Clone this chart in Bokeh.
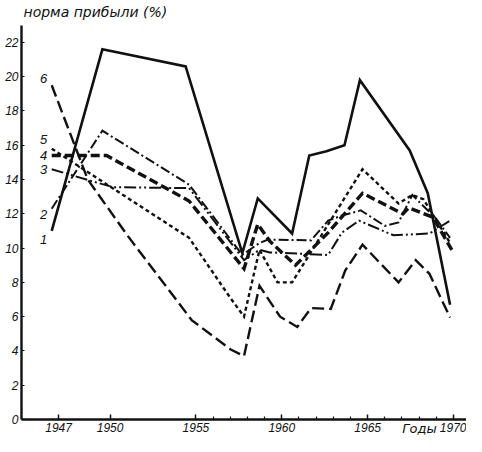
from bokeh.plotting import figure
from bokeh.models import FixedTicker, Range1d, ColumnDataSource, LinearAxis
from bokeh.embed import file_html
from bokeh.resources import INLINE
from bokeh.core.properties import value

# ---- data ----
years_1 = [1946.6, 1949.55, 1954.4, 1957.7, 1958.6, 1960.6, 1961.6, 1962.6, 1963.65, 1964.55, 1967.45, 1968.5, 1969.8]
rate_1 = [11.0, 21.6, 20.6, 9.7, 12.9, 10.85, 15.4, 15.65, 16.0, 19.8, 15.7, 13.2, 6.7]

years_2 = [1946.6, 1949.55, 1954.6, 1957.7, 1958.7, 1959.2, 1961.7, 1962.7, 1963.5, 1964.6, 1966.0, 1966.8, 1967.6, 1969.0, 1969.8]
rate_2 = [12.3, 16.85, 13.7, 9.6, 10.3, 10.5, 10.45, 11.6, 11.9, 12.2, 11.3, 11.5, 13.1, 11.7, 10.6]

years_3 = [1946.6, 1949.3, 1950.2, 1954.6, 1957.8, 1958.7, 1959.3, 1962.7, 1963.5, 1964.5, 1966.5, 1968.6, 1969.8]
rate_3 = [14.6, 13.8, 13.55, 13.5, 9.3, 9.9, 9.75, 9.6, 10.9, 11.6, 10.75, 10.85, 11.6]

years_4 = [1946.6, 1949.8, 1954.6, 1957.8, 1958.6, 1959.3, 1960.8, 1962.7, 1964.7, 1967.05, 1967.4, 1968.8, 1969.9]
rate_4 = [15.4, 15.4, 12.75, 8.8, 11.4, 10.4, 9.0, 10.9, 13.2, 12.0, 12.35, 11.8, 9.9]

years_5 = [1946.6, 1954.6, 1957.0, 1957.8, 1958.7, 1959.75, 1960.6, 1964.7, 1966.8, 1967.6, 1968.25, 1969.8]
rate_5 = [15.8, 10.6, 7.1, 6.0, 9.9, 8.0, 8.0, 14.6, 12.6, 13.1, 12.85, 10.3]

years_6 = [1946.6, 1948.7, 1951.0, 1954.75, 1957.0, 1957.8, 1958.7, 1959.9, 1960.9, 1961.7, 1962.85, 1963.7, 1964.7, 1966.8, 1967.8, 1968.6, 1969.8]
rate_6 = [19.5, 14.0, 10.75, 5.8, 4.1, 3.7, 7.8, 6.0, 5.4, 6.5, 6.45, 8.7, 10.2, 8.0, 9.3, 8.5, 5.95]

series_names = ["1", "2", "3", "4", "5", "6"]
x_major_ticks = [1947, 1950, 1955, 1960, 1965, 1970]
x_minor_ticks = [1956, 1957, 1958, 1959, 1961, 1962, 1963, 1964, 1966, 1967, 1968, 1969]
y_ticks = [0, 2, 4, 6, 8, 10, 12, 14, 16, 18, 20, 22]
y_title = "норма прибыли (%)"
x_title = "Годы"

# ---- layout / styles ----
FONT = "Liberation Sans"
TFONT = "DejaVu Sans"
INK = "#111111"
styles = [
    dict(line_width=2.6, line_dash="solid"),
    dict(line_width=2.0, line_dash="10 3 2 3"),
    dict(line_width=2.0, line_dash="12 3 2 3 2 3"),
    dict(line_width=3.4, line_dash="9 4"),
    dict(line_width=2.4, line_dash="4 3"),
    dict(line_width=2.4, line_dash="12 5"),
]
label_dy = [9, 6, 0, 0, -9, -7]

W, H = 466, 436
X0 = 1944.84          # where the y axis stands
Y_TOP = 23.0          # top of the y axis
PX_YR = 17.17         # pixels per year
PX_UNIT = 17.14       # pixels per percent
AX_LEFT_PX = 21       # y axis position on the canvas
AX_BOTTOM_PX = 419    # x axis position on the canvas

x_start = X0 - AX_LEFT_PX / PX_YR
x_end = X0 + (W - AX_LEFT_PX) / PX_YR
y_end = AX_BOTTOM_PX / PX_UNIT
y_start = -(H - AX_BOTTOM_PX) / PX_UNIT

p = figure(width=W, height=H, output_backend="svg", toolbar_location=None,
           x_range=Range1d(x_start, x_end), y_range=Range1d(y_start, y_end),
           x_axis_location=None, y_axis_location=None,
           min_border_left=0, min_border_right=0,
           min_border_top=0, min_border_bottom=0)
p.outline_line_color = None
p.grid.visible = False
p.background_fill_color = "white"
p.border_fill_color = "white"

all_years = [years_1, years_2, years_3, years_4, years_5, years_6]
all_rates = [rate_1, rate_2, rate_3, rate_4, rate_5, rate_6]
for yrs, rts, st in zip(all_years, all_rates, styles):
    p.line(yrs, rts, line_color=INK, line_join="miter", line_cap="butt", **st)

lab_src = ColumnDataSource(dict(
    x=[ys[0] for ys in all_years],
    y=[rs[0] for rs in all_rates],
    t=series_names,
    dy=label_dy,
))
p.text(x="x", y="y", text="t", source=lab_src, x_offset=-8, y_offset="dy",
       text_align="center", text_baseline="middle",
       text_font=value(FONT), text_font_style="italic", text_font_size="13px",
       text_color=INK)

xa = LinearAxis(fixed_location=0, bounds=(X0, x_end))
xa.ticker = FixedTicker(ticks=x_major_ticks, minor_ticks=x_minor_ticks)
xa.axis_line_width = 2.4
xa.axis_line_color = INK
xa.major_tick_in = 5
xa.major_tick_out = 0
xa.minor_tick_in = 3
xa.minor_tick_out = 0
xa.major_tick_line_width = 1.5
xa.minor_tick_line_width = 1.2
xa.major_tick_line_color = INK
xa.minor_tick_line_color = INK
xa.major_label_text_font = FONT
xa.major_label_text_font_style = "italic"
xa.major_label_text_font_size = "12px"
xa.major_label_text_color = INK
xa.major_label_standoff = 3
p.add_layout(xa, "below")

ya = LinearAxis(fixed_location=X0, bounds=(0, Y_TOP))
ya.ticker = FixedTicker(ticks=y_ticks, minor_ticks=[])
ya.axis_line_width = 2.4
ya.axis_line_color = INK
ya.major_tick_in = 3
ya.major_tick_out = 0
ya.major_tick_line_width = 1.2
ya.major_tick_line_color = INK
ya.major_label_text_font = FONT
ya.major_label_text_font_style = "italic"
ya.major_label_text_font_size = "12px"
ya.major_label_text_color = INK
ya.major_label_standoff = 3
p.add_layout(ya, "left")

# axis titles as text glyphs: one above the y axis, one under the x axis
p.text(x=[X0 + 2 / PX_YR], y=[y_end - 3 / PX_UNIT], text=[y_title],
       text_align="left", text_baseline="top",
       text_font=value(TFONT), text_font_style="italic", text_font_size="14px",
       text_color=INK)
p.text(x=[X0 + (419 - AX_LEFT_PX) / PX_YR], y=[y_start + 1 / PX_UNIT], text=[x_title],
       text_align="center", text_baseline="bottom",
       text_font=value(TFONT), text_font_style="italic", text_font_size="13px",
       text_color=INK)

open("out.html", "w").write(file_html(p, INLINE))
